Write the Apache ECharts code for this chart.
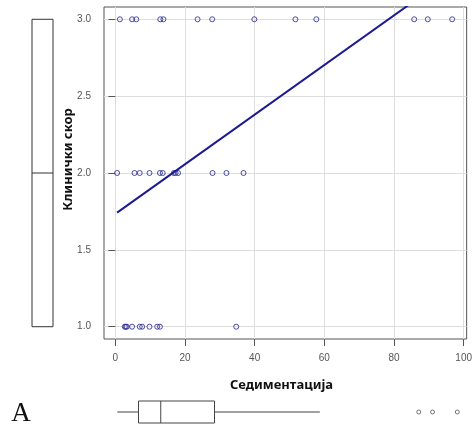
<!DOCTYPE html>
<html>
<head>
<meta charset="utf-8">
<script src="https://cdn.jsdelivr.net/npm/echarts@6/dist/echarts.min.js"></script>
<style>
  html, body { margin: 0; padding: 0; background: #fff; }
  #chart { width: 475px; height: 428px; }
</style>
</head>
<body>
<div id="chart"></div>
<script>
// Tick positions
const xTicks = [0, 20, 40, 60, 80, 100];
const yTicks = [1.0, 1.5, 2.0, 2.5, 3.0];

// Sedimentation values grouped by clinical score
const sedScore3 = [1.3, 4.8, 6, 12.9, 13.8, 23.6, 27.8, 39.9, 51.7, 57.7, 85.8, 89.7, 96.7];
const sedScore2 = [0.5, 5.5, 7, 9.8, 12.8, 13.6, 16.8, 17.3, 18, 27.9, 31.9, 36.8];
const sedScore1 = [2.7, 3, 3.3, 4.8, 7, 7.7, 9.8, 12, 12.8, 34.7];

// Least-squares fit line endpoints (sedimentation, score)
const fitLine = [[0.5, 1.742], [96.7, 3.295]];

// Marginal boxplot statistics: [lower whisker, Q1, median, Q3, upper whisker]
const scoreBox = [1, 1, 2, 3, 3];
const sedBox = [0.5, 6.5, 12.8, 28, 57.8];
const sedOutliers = [85.8, 89.7, 96.7];

const X_MIN = -3.26, X_MAX = 100.86;
const Y_MIN = 0.92, Y_MAX = 3.08;

const pointColor = '#23238c';
const labelFont = "'Liberation Sans', Arial, sans-serif";
const titleFont = "'Noto Sans', 'DejaVu Sans', sans-serif";

const chart = echarts.init(document.getElementById('chart'), null, { renderer: 'canvas' });

function scatterData(xs, y) { return xs.map(x => [x, y]); }

function renderVerticalBox(params, api) {
  const q = [1, 2, 3, 4, 5].map(i => api.value(i));
  const w = api.size([1, 0])[0];
  const cx = api.coord([0, q[2]])[0];
  const x0 = cx - w / 2, x1 = cx + w / 2;
  const yQ1 = api.coord([0, q[1]])[1], yMed = api.coord([0, q[2]])[1], yQ3 = api.coord([0, q[3]])[1];
  const yLo = api.coord([0, q[0]])[1], yHi = api.coord([0, q[4]])[1];
  const stroke = { stroke: '#333', lineWidth: 1, fill: null };
  return {
    type: 'group',
    children: [
      { type: 'rect', shape: { x: x0, y: yQ3, width: w, height: yQ1 - yQ3 }, style: { stroke: '#333', lineWidth: 1, fill: '#fff' } },
      { type: 'line', shape: { x1: x0, y1: yMed, x2: x1, y2: yMed }, style: stroke },
      { type: 'line', shape: { x1: cx, y1: yQ1, x2: cx, y2: yLo }, style: stroke },
      { type: 'line', shape: { x1: cx, y1: yQ3, x2: cx, y2: yHi }, style: stroke }
    ]
  };
}

function renderHorizontalBox(params, api) {
  const q = [0, 1, 2, 3, 4].map(i => api.value(i));
  const h = api.size([0, 1])[1];
  const cy = api.coord([q[2], 0])[1];
  const y0 = cy - h / 2;
  const px = q.map(v => api.coord([v, 0])[0]);
  const stroke = { stroke: '#444', lineWidth: 1, fill: null };
  return {
    type: 'group',
    children: [
      { type: 'line', shape: { x1: px[0], y1: cy, x2: px[1], y2: cy }, style: stroke },
      { type: 'line', shape: { x1: px[3], y1: cy, x2: px[4], y2: cy }, style: stroke },
      { type: 'rect', shape: { x: px[1], y: y0, width: px[3] - px[1], height: h }, style: { stroke: '#444', lineWidth: 1, fill: '#fff' } },
      { type: 'line', shape: { x1: px[2], y1: y0, x2: px[2], y2: y0 + h }, style: stroke }
    ]
  };
}

const option = {
  animation: false,
  backgroundColor: '#fff',
  grid: [
    { left: 104, top: 7, width: 368, height: 332, show: true, borderColor: '#555', borderWidth: 1, backgroundColor: 'transparent' },
    { left: 32, top: 7, width: 21, height: 332 },
    { left: 104, top: 401, width: 368, height: 22 }
  ],
  xAxis: [
    {
      gridIndex: 0, type: 'value', min: X_MIN, max: X_MAX,
      axisLine: { show: false },
      axisTick: { show: true, customValues: xTicks, length: 7, lineStyle: { color: '#555' } },
      axisLabel: { customValues: xTicks, margin: 14, color: '#555', fontSize: 10, fontFamily: labelFont },
      splitLine: { show: true, lineStyle: { color: '#dedede', width: 1 } }
    },
    { gridIndex: 1, type: 'category', data: ['score'], show: false, boundaryGap: true },
    { gridIndex: 2, type: 'value', min: X_MIN, max: X_MAX, show: false, splitLine: { show: false } }
  ],
  yAxis: [
    {
      gridIndex: 0, type: 'value', min: Y_MIN, max: Y_MAX,
      axisLine: { show: false },
      axisTick: { show: true, customValues: yTicks, length: 7, lineStyle: { color: '#555' } },
      axisLabel: { customValues: yTicks, margin: 13, color: '#555', fontSize: 10, fontFamily: labelFont,
                   formatter: v => v.toFixed(1) },
      splitLine: { show: true, lineStyle: { color: '#dedede', width: 1 } }
    },
    { gridIndex: 1, type: 'value', min: Y_MIN, max: Y_MAX, show: false, splitLine: { show: false } },
    { gridIndex: 2, type: 'category', data: ['sed'], show: false, boundaryGap: true }
  ],
  series: [
    {
      type: 'scatter', xAxisIndex: 0, yAxisIndex: 0,
      data: scatterData(sedScore3, 3).concat(scatterData(sedScore2, 2), scatterData(sedScore1, 1)),
      symbol: 'circle', symbolSize: 5,
      itemStyle: { color: 'rgba(0,0,0,0)', borderColor: pointColor, borderWidth: 1 },
      z: 3
    },
    {
      type: 'line', xAxisIndex: 0, yAxisIndex: 0,
      data: fitLine, symbol: 'none', clip: true,
      lineStyle: { color: '#1b1b92', width: 2 },
      z: 4
    },
    {
      type: 'custom', xAxisIndex: 1, yAxisIndex: 1,
      data: [[0].concat(scoreBox)],
      encode: { x: 0, y: [1, 2, 3, 4, 5] },
      renderItem: renderVerticalBox
    },
    {
      type: 'custom', xAxisIndex: 2, yAxisIndex: 2,
      data: [sedBox.concat([0])],
      encode: { x: [0, 1, 2, 3, 4], y: 5 },
      renderItem: renderHorizontalBox
    },
    {
      type: 'scatter', xAxisIndex: 2, yAxisIndex: 2,
      data: sedOutliers.map(x => [x, 0]),
      symbol: 'circle', symbolSize: 4,
      itemStyle: { color: 'rgba(0,0,0,0)', borderColor: '#555', borderWidth: 1 }
    }
  ],
  graphic: [
    {
      type: 'text', x: 281.5, y: 385,
      style: { text: 'Седиментација', font: "bold 13px " + titleFont, fill: '#111', align: 'center', verticalAlign: 'middle' }
    },
    {
      type: 'text', x: 68, y: 159.5, rotation: Math.PI / 2,
      style: { text: 'Клинички скор', font: "bold 13px " + titleFont, fill: '#111', align: 'center', verticalAlign: 'middle' }
    },
    {
      type: 'text', x: 21, y: 414,
      style: { text: 'A', font: "27px 'Liberation Serif', 'Times New Roman', serif", fill: '#111', align: 'center', verticalAlign: 'middle' }
    }
  ]
};

chart.setOption(option);
</script>
</body>
</html>
